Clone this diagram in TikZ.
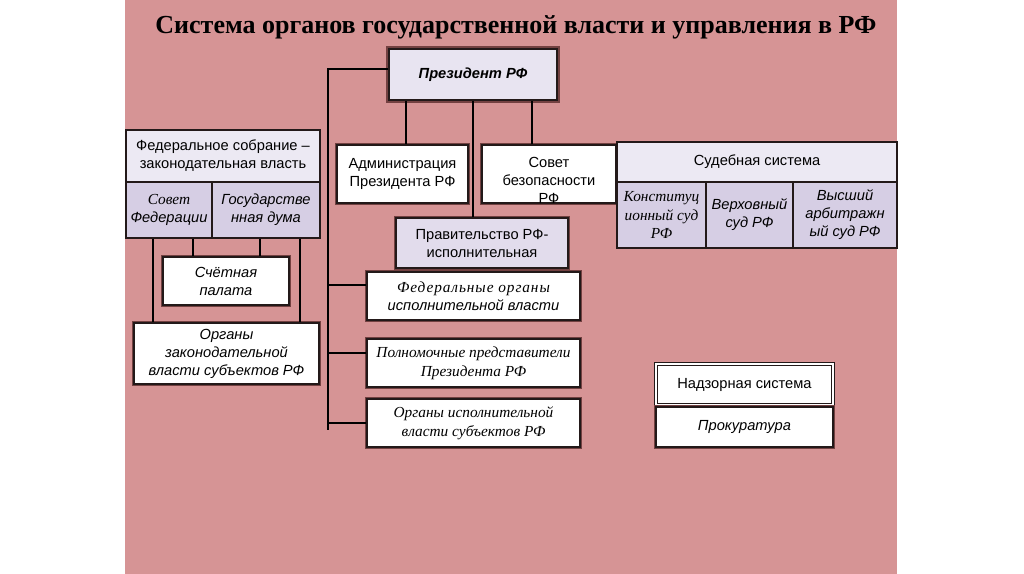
\documentclass[tikz,border=0pt]{standalone}
\usepackage{fontspec}
\setmainfont{Liberation Sans}
\newfontfamily\serf{Liberation Serif}
\definecolor{pinkbg}{RGB}{214,148,149}
\definecolor{lavh}{RGB}{236,233,243}
\definecolor{lavl}{RGB}{214,206,228}
\definecolor{lavp}{RGB}{232,228,241}
\definecolor{lavg}{RGB}{226,220,236}
\definecolor{brd}{RGB}{35,25,25}
\definecolor{shd}{RGB}{115,65,65}
\newcommand\fsn{\fontsize{11}{13.5}\selectfont}
\newcommand\fsi{\fontsize{11}{13.5}\selectfont\itshape}
\newcommand\fsbi{\fontsize{11}{13.5}\selectfont\bfseries\itshape}
\newcommand\fri{\serf\fontsize{11.5}{14}\selectfont\itshape}
\begin{document}
\begin{tikzpicture}[x=0.75pt,y=-0.75pt,
  wh/.style 2 args={minimum width=#1*0.75pt, minimum height=#2*0.75pt},
  bx/.style={draw=brd, line width=1.3pt, fill=white, inner sep=0pt, align=center, font=\fsn,
     preaction={draw=shd, line width=2.6pt}},
  cell/.style={draw=brd, line width=1.1pt, inner sep=0pt, align=center, font=\fsn},
  ln/.style={draw=black, line width=1.2pt}]
\fill[white] (0,0) rectangle (1024,574);
\fill[pinkbg] (125,0) rectangle (897,574);
\useasboundingbox (0,0) rectangle (1024,574);

\node[font=\serf\fontsize{19.5}{23}\selectfont\bfseries] (title) at (516,27) {Система органов государственной власти и управления в РФ};

% President
\node[bx, fill=lavp, line width=2.2pt, preaction={draw=shd, line width=4.6pt}, wh={168}{51}, font=\fsbi] (pres) at (473,74.5) {Президент РФ};

\node[bx, wh={131}{58}] (adm) at (402.5,174) {Администрация\\Президента РФ};
\node[bx, wh={134}{58}] (sb) at (549,174) {};
\node[align=center, font=\fsn, inner sep=0pt] (sbt) at (549,180) {Совет\\безопасности\\РФ};
\node[bx, fill=lavg, line width=1.8pt, preaction={draw=shd, line width=3.6pt}, wh={172}{50}] (prav) at (482,243) {Правительство РФ-\\исполнительная};

% Federal assembly
\node[cell, fill=lavh, wh={194}{52}] (fs) at (223,156) {Федеральное собрание –\\законодательная власть};
\node[cell, fill=lavl, wh={86}{56}] (sf) at (169,210) {{\fri Совет}\\{\fsi Федерации}};
\node[cell, fill=lavl, wh={108}{56}, font=\fsi] (gd) at (266,210) {Государстве\\нная дума};
\node[bx, wh={126}{48}, font=\fsi] (sp) at (226,281) {Счётная\\палата};
\node[bx, wh={185}{61}, font=\fsi] (ozv) at (226.5,353.5) {Органы\\законодательной\\власти субъектов РФ};

% executive branch boxes
\node[bx, wh={213}{48}] (feo) at (473.5,296) {{\fri\addfontfeature{LetterSpace=6}Федеральные органы}\\{\fsi исполнительной власти}};
\node[bx, wh={213}{48}, font=\fri] (pp) at (473.5,363) {Полномочные представители\\Президента РФ};
\node[bx, wh={213}{48}, font=\fri] (oiv) at (473.5,423) {Органы исполнительной\\власти субъектов РФ};

% Judicial system
\node[cell, fill=lavh, wh={280}{40}] (ss) at (757,162) {Судебная система};
\node[cell, fill=lavl, wh={89}{66}, font=\fri] (ks) at (661.5,215) {Конституц\\ионный суд\\РФ};
\node[cell, fill=lavl, wh={87}{66}, font=\fsi] (vs) at (749.5,215) {Верховный\\суд РФ};
\node[cell, fill=lavl, wh={104}{66}, font=\fsi] (vas) at (845,215) {Высший\\арбитражн\\ый суд РФ};

% Supervisory
\node[bx, wh={177}{41}, double=white, double distance=1.2pt, line width=0.9pt, preaction={draw=shd, line width=3.5pt}] (ns) at (744.5,384.5) {Надзорная система};
\node[bx, wh={177}{40}, font=\fsi] (pr) at (744.5,427) {Прокуратура};

% connectors
\coordinate (xl) at (328,0);
\coordinate (xa) at (406,0);
\coordinate (xg) at (473,0);
\coordinate (xb) at (532,0);
\coordinate (vtop) at (328,69);
\coordinate (vend) at (328,430);
\draw[ln] (pres.west |- vtop) -- (vtop) -- (vend);
\draw[ln] (pres.south -| xa) -- (adm.north -| xa);
\draw[ln] (pres.south -| xg) -- (prav.north -| xg);
\draw[ln] (pres.south -| xb) -- (sb.north -| xb);
\coordinate (b1) at (328,285);
\coordinate (b2) at (328,353);
\coordinate (b3) at (328,423);
\draw[ln] (b1) -- (b1 -| feo.west);
\draw[ln] (b2) -- (b2 -| pp.west);
\draw[ln] (b3) -- (b3 -| oiv.west);

\coordinate (x1) at (153,0);
\coordinate (x2) at (193,0);
\coordinate (x3) at (260,0);
\coordinate (x4) at (300,0);
\draw[ln] (sf.south -| x1) -- (ozv.north -| x1);
\draw[ln] (sf.south -| x2) -- (sp.north -| x2);
\draw[ln] (gd.south -| x3) -- (sp.north -| x3);
\draw[ln] (gd.south -| x4) -- (ozv.north -| x4);
\end{tikzpicture}
\end{document}
